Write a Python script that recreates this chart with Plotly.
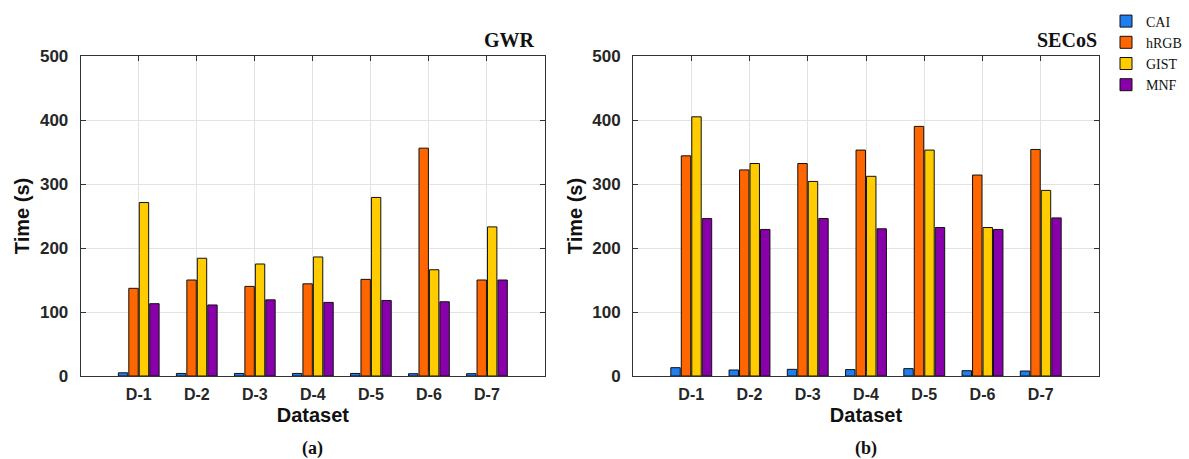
import plotly.graph_objects as go

# Datasets and methods
datasets = ["D-1", "D-2", "D-3", "D-4", "D-5", "D-6", "D-7"]
methods = ["CAI", "hRGB", "GIST", "MNF"]
colors = ["#1F7FEF", "#FF6600", "#FFCC00", "#8800AA"]

# Running time (s) with GWR
gwr_cai = [5, 4, 4, 4, 4, 3.6, 3.6]
gwr_hrgb = [137, 150, 140, 144, 151, 356, 150]
gwr_gist = [271, 184, 175, 186, 279, 166, 233]
gwr_mnf = [113, 111, 119, 115, 118, 116, 150]

# Running time (s) with SECoS
secos_cai = [13, 9.4, 10.4, 10, 11.5, 8.3, 7.8]
secos_hrgb = [344, 322, 332, 353, 390, 314, 354]
secos_gist = [405, 332, 304, 312, 353, 232, 290]
secos_mnf = [246, 229, 246, 230, 232, 229, 247]

y_ticks = [0, 100, 200, 300, 400, 500]

W, H = 1189, 459
fig = go.Figure()

panels = [
    ("x", "y", [gwr_cai, gwr_hrgb, gwr_gist, gwr_mnf], True),
    ("x2", "y2", [secos_cai, secos_hrgb, secos_gist, secos_mnf], False),
]
for xa, ya, series, show in panels:
    for name, vals, col in zip(methods, series, colors):
        fig.add_trace(go.Bar(
            x=datasets, y=vals, name=name, xaxis=xa, yaxis=ya,
            marker=dict(color=col, line=dict(color="#111111", width=1)),
            showlegend=show, legendgroup=name,
        ))

sans = "Liberation Sans, Arial, sans-serif"
serif = "Liberation Serif, Times New Roman, serif"
x_tick_font = dict(family=sans, size=16, color="#262626", weight="bold")
y_tick_font = dict(family=sans, size=17, color="#262626", weight="bold")
title_font = dict(family=sans, size=20, color="#111111", weight="bold")

def px(v):
    return v / W

def py(v):
    return 1 - v / H

x_common = dict(
    type="category", range=[-1, 7], showgrid=True, gridcolor="#e3e3e3",
    gridwidth=1, showline=True, linecolor="#333333", linewidth=1,
    mirror="ticks", ticks="inside", ticklen=5, tickcolor="#333333",
    tickfont=x_tick_font, ticklabelstandoff=4, automargin=False,
    title=dict(text="Dataset", font=title_font, standoff=5),
)
y_common = dict(
    range=[0, 500], tickvals=y_ticks, showgrid=True, gridcolor="#e3e3e3",
    gridwidth=1, showline=True, linecolor="#333333", linewidth=1,
    mirror="ticks", ticks="inside", ticklen=5, tickcolor="#333333",
    tickfont=y_tick_font, zeroline=False, ticklabelstandoff=8,
    automargin=False,
    title=dict(text="Time (s)", font=title_font, standoff=4),
)

fig.update_layout(
    width=W, height=H,
    margin=dict(l=0, r=0, t=0, b=0, pad=0, autoexpand=False),
    paper_bgcolor="white", plot_bgcolor="white",
    barmode="group", bargap=0.28, bargroupgap=0.1,
    xaxis=dict(domain=[px(80.7), px(545)], anchor="y", **x_common),
    yaxis=dict(domain=[py(376), py(56)], anchor="x", **y_common),
    xaxis2=dict(domain=[px(633), px(1099)], anchor="y2", **x_common),
    yaxis2=dict(domain=[py(376), py(56)], anchor="x2", **y_common),
    legend=dict(
        x=px(1106), y=py(5.5), xanchor="left", yanchor="top",
        font=dict(family=serif, size=14, color="#111111"),
        bgcolor="rgba(0,0,0,0)", itemwidth=30, traceorder="normal",
    ),
    showlegend=True,
)

panel_title = dict(family=serif, size=20, color="#111111", weight="bold")
caption = dict(family=serif, size=18, color="#111111", weight="bold")
annotations = [
    dict(text="GWR", x=px(537), y=py(40), font=panel_title,
         xanchor="right", yanchor="middle"),
    dict(text="SECoS", x=px(1099), y=py(40), font=panel_title,
         xanchor="right", yanchor="middle"),
    dict(text="(a)", x=px(312.9), y=py(448), font=caption,
         xanchor="center", yanchor="middle"),
    dict(text="(b)", x=px(866), y=py(448), font=caption,
         xanchor="center", yanchor="middle"),
]
for a in annotations:
    fig.add_annotation(xref="paper", yref="paper", showarrow=False, **a)

fig.write_html("out.html")
